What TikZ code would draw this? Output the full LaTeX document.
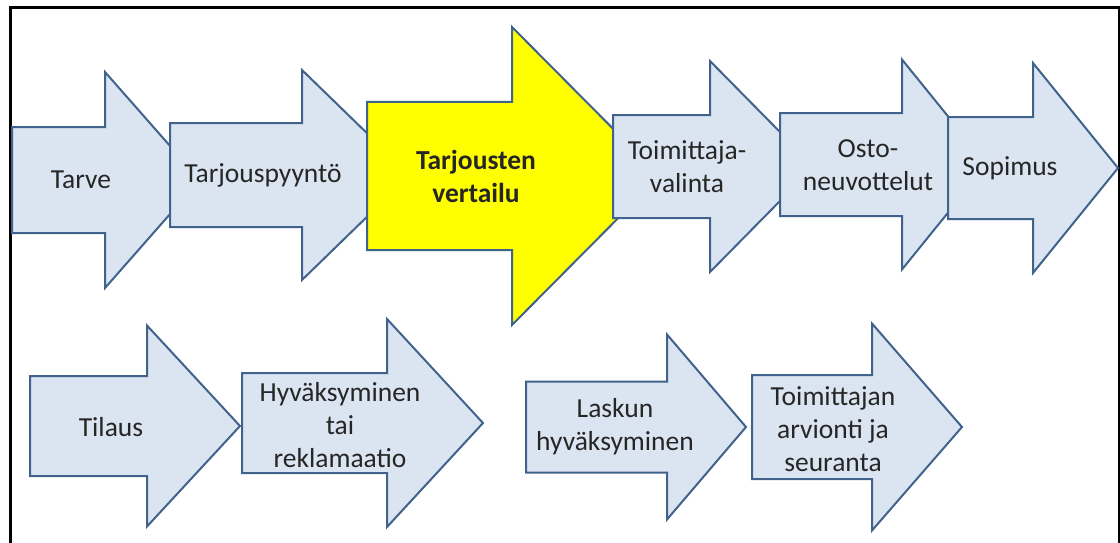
\documentclass[tikz,border=0pt]{standalone}
\usepackage{fontspec}
\setmainfont{Carlito}
\usepackage{xcolor}
\usepackage{tikz}

\definecolor{stepfill}{HTML}{DBE5F1}
\definecolor{stepline}{HTML}{41628C}
\definecolor{hilitefill}{HTML}{FFFF00}

\tikzset{
  stepshape/.style={draw=stepline, line width=2pt, fill=stepfill, line join=miter},
  hiliteshape/.style={stepshape, fill=hilitefill},
  steplabel/.style={align=center, inner sep=0pt, text=black!85,
    font=\fontsize{27.5}{33}\selectfont},
}

% block arrow: style, left, shaft, tip, mid y, half body, half head
\newcommand{\procarrow}[7]{%
  \draw[#1] (#2,#5-#6) -- (#3,#5-#6) -- (#3,#5-#7) -- (#4,#5)
    -- (#3,#5+#7) -- (#3,#5+#6) -- (#2,#5+#6) -- cycle;}

\begin{document}
\begin{tikzpicture}[x=1pt, y=-1pt]

  \useasboundingbox (0,0) rectangle (1120,543);

  % Frame
  \draw[line width=3pt] (10,560) -- (10,8) -- (1119,8) -- (1119,560);

  % Upper row
  \procarrow{stepshape}{12}{105}{200}{180}{53}{108}
  \procarrow{stepshape}{170}{302}{410}{175}{52}{105}
  \procarrow{hiliteshape}{367}{512}{660}{176}{74}{149}
  \procarrow{stepshape}{613}{710}{814}{166.5}{51.5}{105.5}
  \procarrow{stepshape}{780}{902}{987}{164.5}{51.5}{105}
  \procarrow{stepshape}{948}{1033}{1118}{168}{51}{105}

  % Lower row
  \procarrow{stepshape}{30}{147}{240}{426}{50}{100.5}
  \procarrow{stepshape}{242}{387}{483}{423}{50}{104}
  \procarrow{stepshape}{526}{667}{746}{427}{45.5}{92.5}
  \procarrow{stepshape}{752}{872}{962}{427}{52}{103.5}

  % Labels
  \node[steplabel] (tarve) at (81,180) {Tarve};
  \node[steplabel] (pyynto) at (263,175) {Tarjouspyyntö};
  \node[steplabel, font=\fontsize{27.5}{33}\selectfont\bfseries] (vertailu) at (476,176) {Tarjousten\\vertailu};
  \node[steplabel] (valinta) at (687,167) {Toimittaja-\\valinta};
  \node[steplabel] (neuvot) at (868,165) {Osto-\\neuvottelut};
  \node[steplabel] (sopimus) at (1010,168) {Sopimus};

  \node[steplabel] (tilaus) at (111,427) {Tilaus};
  \node[steplabel] (hyvaks) at (340,425) {Hyväksyminen\\tai\\reklamaatio};
  \node[steplabel] (lasku) at (615,427) {Laskun\\hyväksyminen};
  \node[steplabel] (arvio) at (833,429) {Toimittajan\\arvionti ja\\seuranta};

\end{tikzpicture}
\end{document}
